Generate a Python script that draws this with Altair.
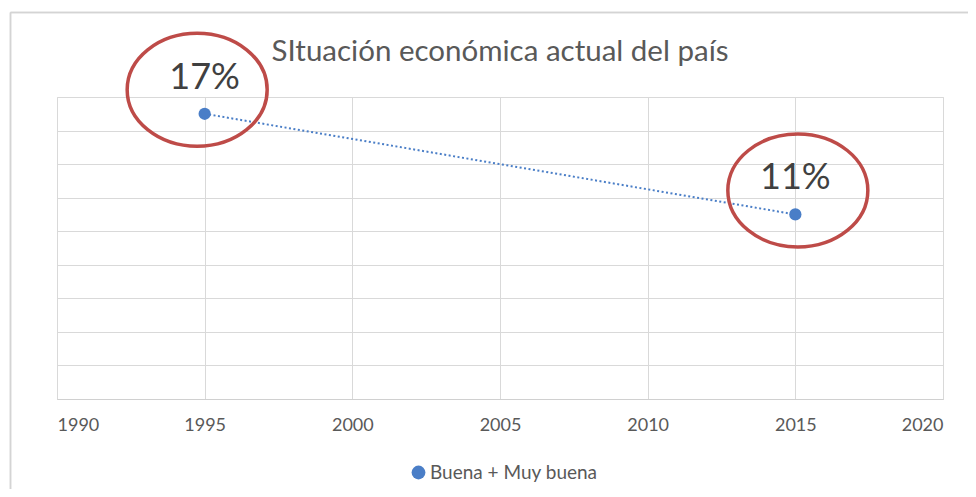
import altair as alt
import pandas as pd

years = [1995, 2015]
values = [0.17, 0.11]
labels = ["17%", "11%"]
series = ["Buena + Muy buena", "Buena + Muy buena"]

df = pd.DataFrame({"year": years, "value": values, "label": labels, "series": series})

BLUE = "#4A7EC7"
RED = "#BE4B48"
FONT = "Lato"

ell = ("M -1 0 C -1 -0.446 -0.552 -0.807 0 -0.807 C 0.552 -0.807 1 -0.446 1 0 "
       "C 1 0.446 0.552 0.807 0 0.807 C -0.552 0.807 -1 0.446 -1 0 Z")

x = alt.X("year:Q", scale=alt.Scale(domain=[1990, 2020], nice=False),
          axis=alt.Axis(values=[1990, 1995, 2000, 2005, 2010, 2015, 2020], format="d",
                        title=None, ticks=False, labelPadding=17, grid=True,
                        gridColor="#d9d9d9", domainColor="#d0d0d0", labelColor="#595959",
                        labelFontSize=18, labelFont=FONT))
y = alt.Y("value:Q", scale=alt.Scale(domain=[0, 0.18], nice=False),
          axis=alt.Axis(values=[0, 0.02, 0.04, 0.06, 0.08, 0.10, 0.12, 0.14, 0.16, 0.18],
                        labels=False, ticks=False, domain=False, title=None,
                        grid=True, gridColor="#d9d9d9"))

base = alt.Chart(df).encode(x=x, y=y)

# chart-area frame (decoration, like the spreadsheet chart border)
frame_top = alt.Chart(df).mark_rule(color="#d4d4d4", strokeWidth=1.5).encode(
    x=alt.value(-46.5), x2=alt.value(925), y=alt.value(-84.5))
frame_left = alt.Chart(df).mark_rule(color="#d4d4d4", strokeWidth=1.5).encode(
    x=alt.value(-46.5), y=alt.value(-84.5), y2=alt.value(410))

line = base.mark_line(color=BLUE, strokeWidth=2, strokeDash=[2, 2.5])
points = base.mark_point(filled=True, size=150, opacity=1).encode(
    color=alt.Color("series:N", scale=alt.Scale(range=[BLUE]),
                    legend=alt.Legend(title=None, orient="none", legendX=352, legendY=366,
                                      symbolType="circle", symbolSize=190, labelFontSize=19,
                                      labelFont=FONT, labelColor="#595959", labelOffset=2,
                                      labelLimit=400))
)
text = base.mark_text(fontSize=36, font=FONT, color="#404040", dy=-25,
                      baseline="alphabetic").encode(text="label:N")

e1 = base.transform_filter(alt.datum.year == 1995).mark_point(
    shape=ell, size=19600, filled=False, stroke=RED, strokeWidth=3.5, opacity=1,
    xOffset=-7.5, yOffset=-24)
e2 = base.transform_filter(alt.datum.year == 2015).mark_point(
    shape=ell, size=19600, filled=False, stroke=RED, strokeWidth=3.5, opacity=1,
    xOffset=2.5, yOffset=-24)

chart = alt.layer(frame_top, frame_left, line, points, text, e1, e2).properties(
    width=886, height=302,
    title=alt.TitleParams("SItuación económica actual del país", font=FONT, fontSize=29.5,
                          fontWeight="normal", color="#595959", offset=-16, dy=40),
    padding={"left": 49, "top": 89, "right": 25, "bottom": 90},
    autosize=alt.AutoSizeParams(type="none"),
).configure_view(stroke=None).configure(background="white")

chart.save("out.html", embed_options={"renderer": "svg", "actions": False})
